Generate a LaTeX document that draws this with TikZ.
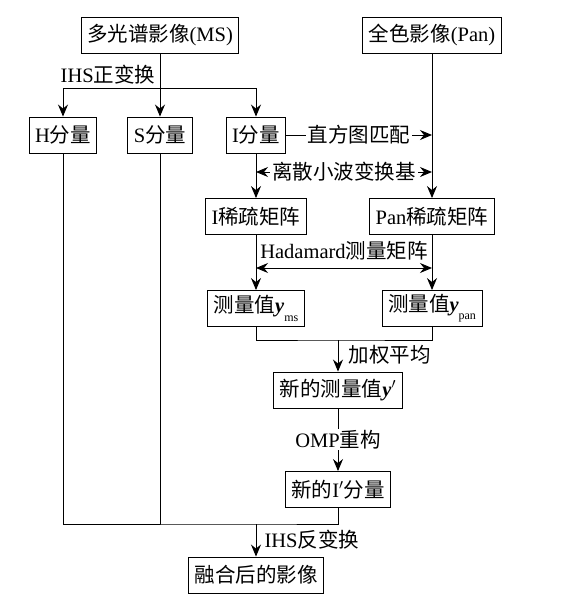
\documentclass[tikz,border=0pt]{standalone}
\usepackage{fontspec}
\setmainfont{Liberation Serif}
\newfontfamily\zhfont{Noto Sans CJK SC}
\usepackage{tikz}
\usetikzlibrary{positioning, arrows.meta}
\newcommand{\zh}[1]{{\zhfont #1}}
\newcommand{\bfy}{\textbf{\textit{y}}}
\newcommand{\subsc}[1]{\raisebox{-0.4em}{\fontsize{12}{12}\selectfont #1}}

\begin{document}
\begin{tikzpicture}[x=1pt, y=-1pt,
  font=\fontsize{20.5}{24}\selectfont,
  box/.style={draw, line width=0.9pt, minimum height=36pt, inner xsep=6pt, inner ysep=2pt},
  lbl/.style={fill=white, inner xsep=2pt, inner ysep=1pt},
  arr/.style={-{Stealth[length=12pt, width=10pt, inset=4pt]}, line width=0.9pt},
  dbl/.style={{Stealth[length=12pt, width=10pt, inset=4pt]}-{Stealth[length=12pt, width=10pt, inset=4pt]}, line width=0.9pt},
  ln/.style={line width=0.9pt}]
  \def\cI{256}   % I column
  \def\cP{432}   % Pan column
  \def\cN{338}   % new column
  \useasboundingbox (0,0) rectangle (577,600);
  % boxes
  \node[box] (ms)  at (160,35)   {\zh{多光谱影像}(MS)};
  \node[box] (pan) at (\cP,35)   {\zh{全色影像}(Pan)};
  \node[box] (h)   at (63,135)   {H\zh{分量}};
  \node[box] (s)   at (160,135)  {S\zh{分量}};
  \node[box] (i)   at (\cI,135)  {I\zh{分量}};
  \node[box] (isp) at (\cI,216.5) {I\zh{稀疏矩阵}};
  \node[box] (psp) at (\cP,216.5) {Pan\zh{稀疏矩阵}};
  \node[box] (yms) at (\cI,308.5) {\zh{测量值}\bfy\subsc{ms}};
  \node[box] (ypn) at (\cP,308.5) {\zh{测量值}\bfy\subsc{pan}};
  \node[box] (ynw) at (\cN,390)  {\zh{新的测量值}\bfy$'$};
  \node[box] (inw) at (\cN,489.5) {\zh{新的}I$'$\zh{分量}};
  \node[box] (fus) at (\cI,575)  {\zh{融合后的影像}};
  % junctions
  \coordinate (split) at (160,88);
  \coordinate (hist)  at (\cP,135);
  \coordinate (dwtl)  at (\cI,172);
  \coordinate (dwtr)  at (\cP,172);
  \coordinate (hadl)  at (\cI,268);
  \coordinate (hadr)  at (\cP,268);
  \coordinate (merge) at (\cN,340);
  \coordinate (bus)   at (\cI,524);
  % IHS forward
  \node (ihs) at (108,75) {IHS\zh{正变换}};
  \draw[arr] (ms) -- (s);
  \draw[arr] (split) -| (h);
  \draw[arr] (split) -| (i);
  % pan branch
  \draw[arr] (pan) -- (psp);
  \draw[arr] (i) -- node[lbl] (histlbl) {\zh{直方图匹配}} (hist);
  \draw[dbl] (dwtl) -- node[lbl] (dwtlbl) {\zh{离散小波变换基}} (dwtr);
  \draw[arr] (i) -- (isp);
  % measurement
  \node (had) at (344,251) {Hadamard\zh{测量矩阵}};
  \draw[dbl] (hadl) -- (hadr);
  \draw[arr] (isp) -- (yms);
  \draw[arr] (psp) -- (ypn);
  % weighted mean
  \draw[ln] (yms) |- (merge) -| (ypn);
  \draw[arr] (merge) -- (ynw);
  \node[anchor=west] (wavg) at (345,355) {\zh{加权平均}};
  \draw[arr] (ynw) -- node[lbl] (omp) {OMP\zh{重构}} (inw);
  % IHS inverse
  \draw[ln] (h) |- (bus) -| (inw);
  \draw[ln] (s) -- (s |- bus);
  \draw[arr] (bus) -- (fus);
  \node[anchor=west] (ihsinv) at (261,540) {IHS\zh{反变换}};
\end{tikzpicture}
\end{document}
